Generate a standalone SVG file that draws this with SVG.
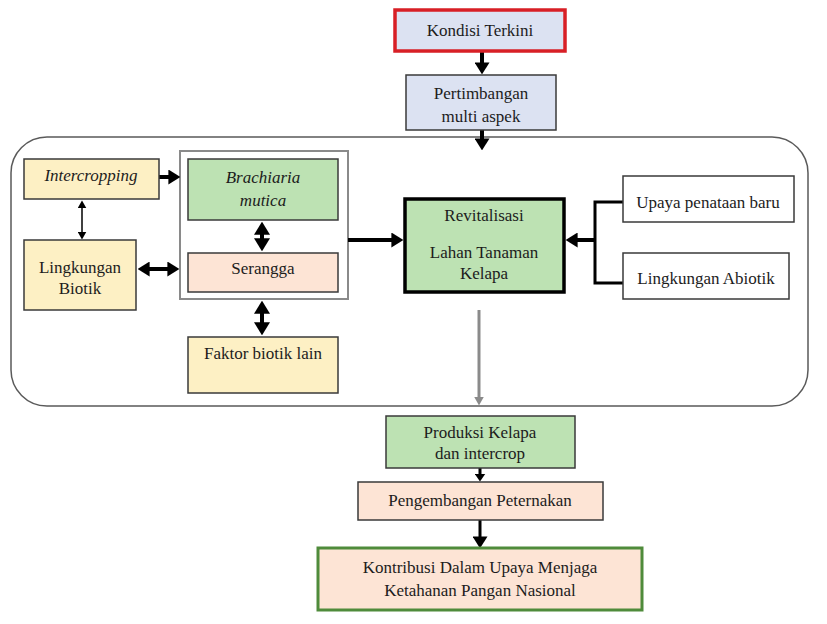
<svg xmlns="http://www.w3.org/2000/svg" width="827" height="624" viewBox="0 0 827 624">
<style>
text{font-family:"Liberation Serif","Times New Roman",serif;font-size:17px;fill:#1c1c1c;text-anchor:middle}
.it{font-style:italic}
.blue{fill:#dce2f2;stroke:#3a3a3a;stroke-width:1.5}
.yel{fill:#fdf0c4;stroke:#3a3a3a;stroke-width:1.5}
.grn{fill:#bde2b3;stroke:#3a3a3a;stroke-width:1.5}
.pch{fill:#fde4d5;stroke:#3a3a3a;stroke-width:1.5}
.wht{fill:#ffffff;stroke:#3a3a3a;stroke-width:1.5}
.thick{stroke:#000;stroke-width:4;fill:none}
.thin{stroke:#000;stroke-width:1.5;fill:none}
</style>
<defs>
<marker id="big" viewBox="0 0 10 10" refX="0.5" refY="5" markerWidth="12" markerHeight="15" markerUnits="userSpaceOnUse" orient="auto-start-reverse" preserveAspectRatio="none"><path d="M0,0 L10,5 L0,10 z" fill="#000"/></marker>
<marker id="dia" viewBox="0 0 10 10" refX="0.5" refY="5" markerWidth="13" markerHeight="16" markerUnits="userSpaceOnUse" orient="auto-start-reverse" preserveAspectRatio="none"><path d="M0,0 L10,5 L0,10 z" fill="#000"/></marker>
<marker id="small" viewBox="0 0 10 10" refX="0.5" refY="5" markerWidth="8" markerHeight="9" markerUnits="userSpaceOnUse" orient="auto-start-reverse" preserveAspectRatio="none"><path d="M0,0 L10,5 L0,10 z" fill="#000"/></marker>
<marker id="med" viewBox="0 0 10 10" refX="0.5" refY="5" markerWidth="8" markerHeight="11" markerUnits="userSpaceOnUse" orient="auto-start-reverse" preserveAspectRatio="none"><path d="M0,0 L10,5 L0,10 z" fill="#000"/></marker>
<marker id="gray" viewBox="0 0 10 10" refX="0.5" refY="5" markerWidth="9" markerHeight="10" markerUnits="userSpaceOnUse" orient="auto" preserveAspectRatio="none"><path d="M0,0 L10,5 L0,10 z" fill="#8a8a8a"/></marker>
</defs>
<rect width="827" height="624" fill="#fff"/>

<g id="container"><rect x="11" y="137" width="797" height="269" rx="36" ry="36" fill="none" stroke="#5a5a5a" stroke-width="1.5"/></g>
<g id="frame"><rect x="180" y="151" width="168" height="148" fill="none" stroke="#8a8a8a" stroke-width="2"/></g>

<g id="connectors">
<line x1="482" y1="52" x2="482" y2="63" class="thick" marker-end="url(#big)"/>
<line x1="482" y1="130" x2="482" y2="139" class="thick" marker-end="url(#big)"/>
<line x1="159" y1="177" x2="169" y2="177" class="thick" marker-end="url(#big)"/>
<line x1="82" y1="208" x2="82" y2="232" class="thin" marker-start="url(#small)" marker-end="url(#small)"/>
<line x1="149" y1="269" x2="168" y2="269" class="thick" marker-start="url(#big)" marker-end="url(#big)"/>
<line x1="262" y1="234" x2="262" y2="239" class="thick" marker-start="url(#dia)" marker-end="url(#dia)"/>
<line x1="262" y1="313" x2="262" y2="323" class="thick" marker-start="url(#dia)" marker-end="url(#dia)"/>
<line x1="348" y1="240" x2="392" y2="240" class="thick" marker-end="url(#big)"/>
<path d="M623,202 H595 V283 H623" stroke="#000" stroke-width="3" fill="none"/>
<line x1="595" y1="240" x2="577" y2="240" class="thick" marker-end="url(#big)"/>
<line x1="479" y1="310" x2="479" y2="397" stroke="#8a8a8a" stroke-width="3" marker-end="url(#gray)"/>
<line x1="480" y1="468" x2="480" y2="474" stroke="#000" stroke-width="3" marker-end="url(#med)"/>
<line x1="480" y1="520" x2="480" y2="537" stroke="#000" stroke-width="3" marker-end="url(#big)"/>
</g>

<g id="kondisi"><rect x="395" y="10" width="170" height="41" fill="#dce2f2" stroke="#d81f26" stroke-width="3.5"/><text x="480" y="36">Kondisi Terkini</text></g>
<g id="pertimbangan"><rect x="406" y="75" width="150" height="55" class="blue"/><text x="481" y="99">Pertimbangan</text><text x="481" y="122">multi aspek</text></g>
<g id="intercropping"><rect x="24" y="159" width="135" height="40" class="yel"/><text x="91" y="181" class="it">Intercropping</text></g>
<g id="brachiaria"><rect x="188" y="159" width="150" height="61" class="grn"/><text x="263" y="183" class="it">Brachiaria</text><text x="263" y="206" class="it">mutica</text></g>
<g id="lingkungan-biotik"><rect x="24" y="240" width="112" height="70" class="yel"/><text x="80" y="273">Lingkungan</text><text x="80" y="294">Biotik</text></g>
<g id="serangga"><rect x="188" y="253" width="150" height="39" class="pch"/><text x="263" y="274">Serangga</text></g>
<g id="faktor"><rect x="188" y="337" width="150" height="56" class="yel"/><text x="263" y="359">Faktor biotik lain</text></g>
<g id="revitalisasi"><rect x="405" y="199" width="159" height="93" fill="#bde2b3" stroke="#000" stroke-width="3.5"/><text x="484" y="221">Revitalisasi</text><text x="484" y="258">Lahan Tanaman</text><text x="484" y="279">Kelapa</text></g>
<g id="upaya"><rect x="623" y="176" width="171" height="46" class="wht"/><text x="708" y="208">Upaya penataan baru</text></g>
<g id="abiotik"><rect x="623" y="253" width="166" height="46" class="wht"/><text x="706" y="284">Lingkungan Abiotik</text></g>
<g id="produksi"><rect x="386" y="416" width="189" height="52" class="grn"/><text x="480" y="438">Produksi Kelapa</text><text x="480" y="459">dan intercrop</text></g>
<g id="pengembangan"><rect x="358" y="482" width="245" height="38" class="pch"/><text x="480" y="506">Pengembangan Peternakan</text></g>
<g id="kontribusi"><rect x="318" y="548" width="324" height="62" fill="#fde4d5" stroke="#4f8b3b" stroke-width="3"/><text x="480" y="573">Kontribusi Dalam Upaya Menjaga</text><text x="480" y="596">Ketahanan Pangan Nasional</text></g>
</svg>
